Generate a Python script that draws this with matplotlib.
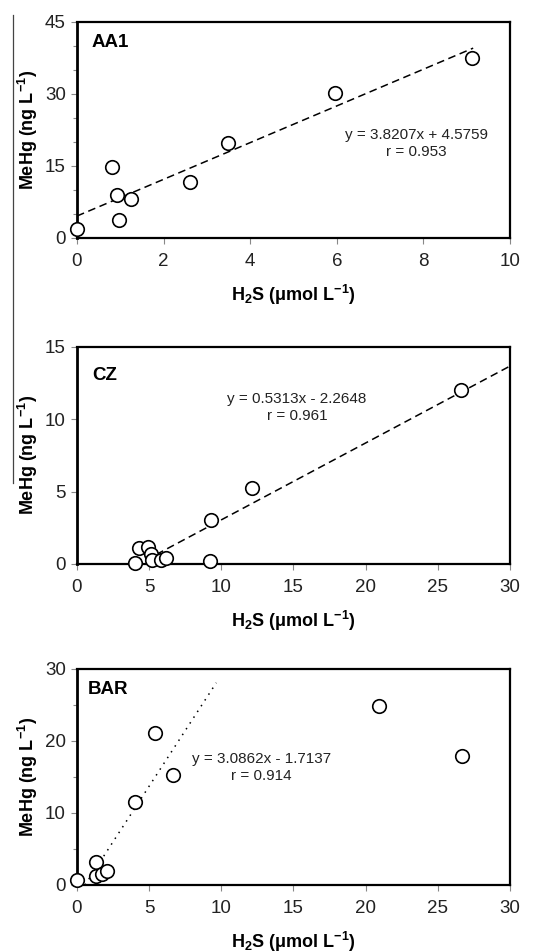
import matplotlib
matplotlib.use("Agg")
import matplotlib.pyplot as plt
from matplotlib.lines import Line2D
import numpy as np

plt.rcParams['font.family'] = ['Liberation Sans', 'DejaVu Sans']
plt.rcParams['mathtext.fontset'] = 'custom'
plt.rcParams['mathtext.rm'] = 'Liberation Sans'
plt.rcParams['mathtext.bf'] = 'Liberation Sans:bold'
plt.rcParams['mathtext.it'] = 'Liberation Sans:italic'

# AA1 site
aa1_h2s = [0.0, 0.82, 0.93, 0.98, 1.25, 2.62, 3.48, 5.97, 9.13]
aa1_mehg = [1.8, 14.8, 9.0, 3.8, 8.2, 11.6, 19.7, 30.2, 37.5]
aa1_fit = (3.8207, 4.5759)
aa1_fit_range = (0.0, 9.15)
aa1_eq = "y = 3.8207x + 4.5759\nr = 0.953"

# CZ site
cz_h2s = [4.0, 4.3, 4.9, 5.1, 5.2, 5.8, 6.2, 9.25, 9.3, 12.1, 26.6]
cz_mehg = [0.1, 1.1, 1.15, 0.7, 0.25, 0.3, 0.4, 0.2, 3.05, 5.25, 12.0]
cz_fit = (0.5313, -2.2648)
cz_fit_range = (5.5, 30.0)
cz_eq = "y = 0.5313x - 2.2648\nr = 0.961"

# BAR site
bar_h2s = [0.0, 1.3, 1.3, 1.7, 2.1, 4.04, 5.39, 6.62, 20.9, 26.7]
bar_mehg = [0.7, 3.2, 1.2, 1.5, 2.0, 11.5, 21.1, 15.2, 24.9, 17.9]
bar_fit = (3.0862, -1.7137)
bar_fit_range = (0.555, 9.65)
bar_eq = "y = 3.0862x - 1.7137\nr = 0.914"

fig = plt.figure(figsize=(5.46, 9.52), dpi=100)

panels = [
    dict(name="AA1", x=aa1_h2s, y=aa1_mehg, fit=aa1_fit, rng=aa1_fit_range, eq=aa1_eq,
         rect=[0.141, 0.750, 0.793, 0.227], xlim=(0, 10), ylim=(0, 45),
         xt=np.arange(0, 11, 2), yt=np.arange(0, 46, 15), ymin=np.arange(0, 46, 5),
         ls=(0, (5, 3)), eqpos=(7.83, 19.7), namepos=(0.034, 0.903)),
    dict(name="CZ", x=cz_h2s, y=cz_mehg, fit=cz_fit, rng=cz_fit_range, eq=cz_eq,
         rect=[0.141, 0.4076, 0.793, 0.228], xlim=(0, 30), ylim=(0, 15),
         xt=np.arange(0, 31, 5), yt=np.arange(0, 16, 5), ymin=None,
         ls=(0, (5, 3)), eqpos=(15.25, 10.8), namepos=(0.036, 0.868)),
    dict(name="BAR", x=bar_h2s, y=bar_mehg, fit=bar_fit, rng=bar_fit_range, eq=bar_eq,
         rect=[0.141, 0.0704, 0.793, 0.227], xlim=(0, 30), ylim=(0, 30),
         xt=np.arange(0, 31, 5), yt=np.arange(0, 31, 10), ymin=np.arange(0, 31, 5),
         ls=(0, (1, 3.5)), eqpos=(12.8, 16.35), namepos=(0.024, 0.903)),
]

for p in panels:
    ax = fig.add_axes(p["rect"])
    xs = np.array(p["rng"])
    ax.plot(xs, p["fit"][0] * xs + p["fit"][1], color="black", lw=1.1,
            linestyle=p["ls"], zorder=2)
    ax.scatter(p["x"], p["y"], s=95, facecolors="white", edgecolors="black",
               linewidths=1.2, zorder=3, clip_on=False)
    ax.set_xlim(*p["xlim"])
    ax.set_ylim(*p["ylim"])
    ax.set_xticks(p["xt"])
    ax.set_yticks(p["yt"])
    if p["ymin"] is not None:
        ax.set_yticks(p["ymin"], minor=True)
    ax.tick_params(axis="both", which="both", direction="out", length=4,
                   width=0.8, color="#888888", labelsize=13.5, labelcolor="#222222")
    ax.tick_params(axis="x", which="major", pad=7)
    ax.tick_params(axis="y", which="major", pad=4)
    ax.tick_params(axis="y", which="minor", length=3)
    for side in ax.spines:
        ax.spines[side].set_linewidth(1.6)
    ax.spines["left"].set_linewidth(2.0)
    ax.text(p["namepos"][0], p["namepos"][1], p["name"], transform=ax.transAxes,
            fontsize=13.5, fontweight="bold", va="center", ha="left")
    ax.text(p["eqpos"][0], p["eqpos"][1], p["eq"], fontsize=11, ha="center",
            va="center", linespacing=1.3, color="#222222")
    ax.set_xlabel(r"H$_\mathbf{2}$S (μmol L$^{\mathbf{-1}}$)",
                  fontsize=13, fontweight="bold", labelpad=9)
    ax.set_ylabel(r"MeHg (ng L$^{\mathbf{-1}}$)", fontsize=13, fontweight="bold",
                  labelpad=3.5)

# thin rule along the left margin
fig.add_artist(Line2D([13 / 546, 13 / 546], [1 - 15 / 952, 1 - 483 / 952],
                      transform=fig.transFigure, color="#444444", lw=0.9))

fig.savefig("out.png", dpi=100, facecolor="white")
